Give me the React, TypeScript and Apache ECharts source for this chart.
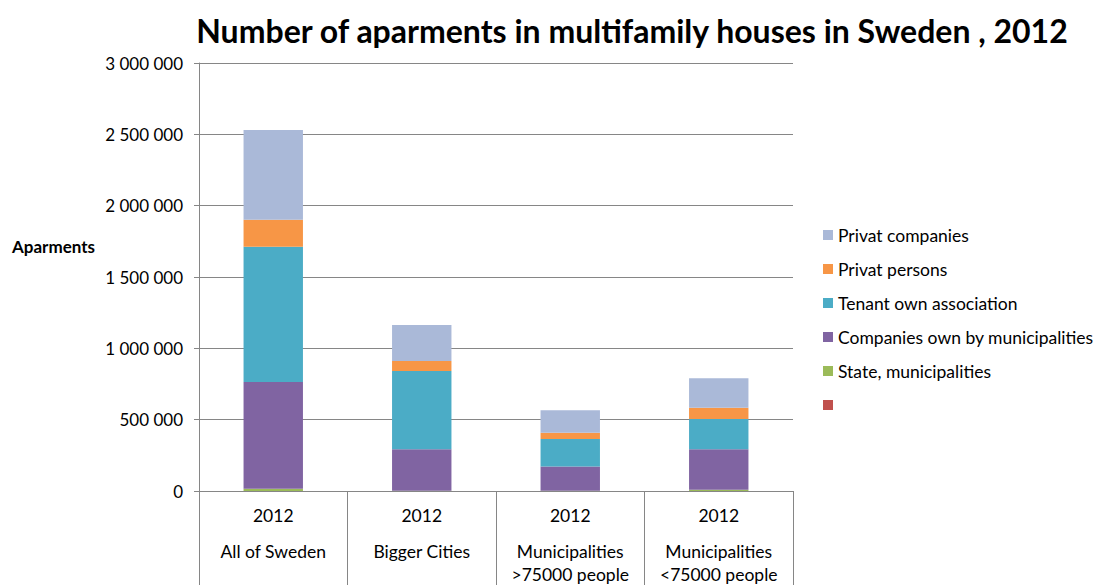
import React, { useEffect, useRef } from "react";
import * as echarts from "echarts";

const years = ["2012", "2012", "2012", "2012"];
const categories = [
  "All of Sweden",
  "Bigger Cities",
  "Municipalities\n>75000 people",
  "Municipalities\n<75000 people",
];
const yTicks = [0, 500000, 1000000, 1500000, 2000000, 2500000, 3000000];

const blankSeries = [0, 0, 0, 0];
const stateMunicipalities = [15000, 2000, 1000, 8000];
const companiesOwnByMunicipalities = [749000, 290000, 170000, 284000];
const tenantOwnAssociation = [948000, 549000, 194000, 212000];
const privatPersons = [190000, 70000, 44000, 80000];
const privatCompanies = [628000, 252000, 157000, 206000];

const FONT = "Lato";

function fmt(v: number): string {
  return String(Math.round(v)).replace(/\B(?=(\d{3})+(?!\d))/g, " ");
}

export default function App() {
  const ref = useRef<HTMLDivElement>(null);
  useEffect(() => {
    if (!ref.current) return;
    const chart = echarts.init(ref.current, undefined, { renderer: "svg" });
    const mk = (name: string, data: number[], color: string) => ({
      name,
      type: "bar",
      stack: "total",
      data,
      barWidth: "40%",
      itemStyle: { color },
    });
    chart.setOption({
      animation: false,
      backgroundColor: "#ffffff",
      textStyle: { fontFamily: FONT },
      title: {
        text: "Number of aparments in multifamily houses in Sweden , 2012",
        left: 627,
        textAlign: "center",
        top: 9,
        textStyle: { fontFamily: FONT, fontSize: 32, fontWeight: "bold", color: "#000" },
      },
      graphic: [
        {
          type: "text",
          left: 12,
          top: 238,
          style: {
            text: "Aparments",
            fontFamily: FONT,
            fontSize: 17,
            fontWeight: "bold",
            fill: "#000",
          },
        },
      ],
      legend: {
        orient: "vertical",
        left: 818,
        top: 220,
        itemWidth: 10,
        itemHeight: 10,
        itemGap: 14,
        icon: "rect",
        textStyle: { fontFamily: FONT, fontSize: 17.5, color: "#000", lineHeight: 20 },
        data: [
          "Privat companies",
          "Privat persons",
          "Tenant own association",
          "Companies own by municipalities",
          "State, municipalities",
          " ",
        ],
      },
      grid: { left: 199, right: 303, top: 63, bottom: 94, containLabel: false },
      xAxis: {
        type: "category",
        data: categories,
        axisLine: { show: true, lineStyle: { color: "#868686", width: 1 } },
        axisTick: {
          show: true,
          interval: 0,
          length: 94,
          lineStyle: { color: "#868686", width: 1 },
        },
        axisLabel: {
          interval: 0,
          margin: 0,
          formatter: (value: string, idx: number) =>
            `{y|${years[idx]}}\n{c|${value}}`,
          rich: {
            y: { fontFamily: FONT, fontSize: 17.5, color: "#000", lineHeight: 49 },
            c: { fontFamily: FONT, fontSize: 17.5, color: "#000", lineHeight: 23 },
          },
        },
      },
      yAxis: {
        type: "value",
        min: yTicks[0],
        max: yTicks[yTicks.length - 1],
        interval: yTicks[1] - yTicks[0],
        axisLine: { show: true, lineStyle: { color: "#868686", width: 1 } },
        axisTick: { show: true, length: 5, lineStyle: { color: "#868686" } },
        splitLine: { show: true, lineStyle: { color: "#868686", width: 1 } },
        axisLabel: {
          margin: 16,
          fontFamily: FONT,
          fontSize: 17,
          color: "#000",
          formatter: (v: number) => fmt(v),
        },
      },
      series: [
        mk(" ", blankSeries, "#C0504D"),
        mk("State, municipalities", stateMunicipalities, "#9BBB59"),
        mk("Companies own by municipalities", companiesOwnByMunicipalities, "#8064A2"),
        mk("Tenant own association", tenantOwnAssociation, "#4BACC6"),
        mk("Privat persons", privatPersons, "#F79646"),
        mk("Privat companies", privatCompanies, "#AAB9D8"),
      ],
    });
    return () => chart.dispose();
  }, []);
  return (
    <div
      ref={ref}
      style={{ position: "absolute", left: 0, top: 0, width: 1096, height: 585 }}
    />
  );
}
